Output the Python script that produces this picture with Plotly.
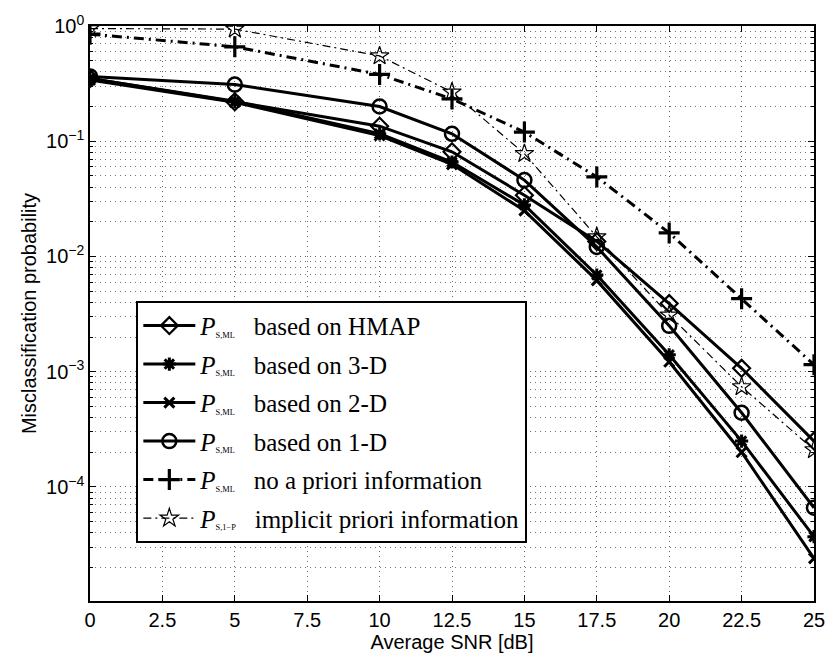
import plotly.graph_objects as go

# Average SNR sweep [dB]
snr = [0, 5, 10, 12.5, 15, 17.5, 20, 22.5, 25]

# Misclassification probability for each estimator
p_hmap = [0.35, 0.22, 0.135, 0.081, 0.034, 0.0135, 0.0039, 0.00107, 0.00025]
p_3d = [0.35, 0.222, 0.116, 0.066, 0.028, 0.0069, 0.0014, 0.00025, 0.000037]
p_2d = [0.34, 0.218, 0.112, 0.063, 0.025, 0.0062, 0.00122, 0.0002, 0.000024]
p_1d = [0.365, 0.31, 0.20, 0.116, 0.046, 0.0121, 0.0025, 0.00044, 0.000066]
p_noprior = [0.85, 0.66, 0.38, 0.233, 0.12, 0.049, 0.016, 0.0043, 0.00115]
p_implicit = [0.95, 0.94, 0.55, 0.267, 0.078, 0.0148, 0.0031, 0.00074, 0.00021]

x_ticks = [0, 2.5, 5, 7.5, 10, 12.5, 15, 17.5, 20, 22.5, 25]
x_ticktext = ["0", "2.5", "5", "7.5", "10", "12.5", "15", "17.5", "20", "22.5", "25"]
y_ticks = [1, 1e-1, 1e-2, 1e-3, 1e-4]
y_ticktext = ["10<sup>0</sup>", "10<sup>\u22121</sup>", "10<sup>\u22122</sup>",
              "10<sup>\u22123</sup>", "10<sup>\u22124</sup>"]
y_minor = [m * 10.0 ** e for e in range(-5, 0) for m in range(2, 10)]

GAP = "&nbsp;&nbsp;&nbsp;"
SUB_SML = "<i>P</i><span style='font-size:12px'><sub>S,ML</sub></span>" + GAP
SUB_S1P = "<i>P</i><span style='font-size:12px'><sub>S,1\u2212P</sub></span>" + GAP

series = [
    (p_hmap, SUB_SML + "based on HMAP", "solid", 3, "diamond-open", 13, 2.2),
    (p_3d, SUB_SML + "based on 3-D", "solid", 3, "asterisk-open", 11, 3),
    (p_2d, SUB_SML + "based on 2-D", "solid", 3, "x-thin-open", 10, 3),
    (p_1d, SUB_SML + "based on 1-D", "solid", 3, "circle-open", 14, 2.5),
    (p_noprior, SUB_SML + "no a priori information", "10px,5px,2px,5px", 3,
     "cross-thin-open", 15, 3.2),
    (p_implicit, SUB_S1P + "implicit priori information", "8px,4px,2px,4px", 1.2,
     "star-open", 14, 1.2),
]

fig = go.Figure()
for i, (vals, name, dash, lw, sym, ms, mlw) in enumerate(series):
    fig.add_trace(go.Scatter(
        x=snr, y=vals, name=name, mode="lines+markers",
        legendgroup=f"g{i}",
        line=dict(color="black", width=lw, dash=dash),
        marker=dict(symbol=sym, size=ms, color="black",
                    line=dict(color="black", width=mlw)),
    ))

axis_font = dict(family="Liberation Sans, Arial, sans-serif", size=20, color="black")
grid = dict(showgrid=True, gridcolor="rgba(0,0,0,0.6)", griddash="1px,4px", gridwidth=1)

fig.update_xaxes(
    range=[0, 25], tickvals=x_ticks, ticktext=x_ticktext, tickfont=axis_font,
    title=dict(text="Average SNR [dB]", font=axis_font, standoff=2),
    showline=True, linecolor="black", linewidth=1.5, mirror="ticks",
    ticks="inside", ticklen=6, tickcolor="black", zeroline=False, **grid,
)
fig.update_yaxes(
    type="log", range=[-4.99, 0], tickvals=y_ticks, ticktext=y_ticktext,
    tickfont=axis_font,
    title=dict(text="Misclassification probability", font=axis_font, standoff=4),
    showline=True, linecolor="black", linewidth=1.5, mirror="ticks",
    ticks="inside", ticklen=6, tickcolor="black", zeroline=False, **grid,
    minor=dict(tickvals=y_minor, ticks="inside", ticklen=3, tickcolor="black",
               showgrid=True, gridcolor="rgba(0,0,0,0.55)", griddash="1px,4px",
               gridwidth=1),
)

fig.update_layout(
    width=837, height=659,
    margin=dict(l=90, r=14, t=22, b=58),
    plot_bgcolor="white", paper_bgcolor="white",
    showlegend=True,
    legend=dict(
        x=0.064, y=0.522, xanchor="left", yanchor="top",
        bgcolor="white", bordercolor="black", borderwidth=2,
        font=dict(family="Liberation Serif, Times New Roman, serif", size=25,
                  color="black"),
        itemwidth=52, tracegroupgap=3, traceorder="grouped",
    ),
)

fig.write_html("out.html")
